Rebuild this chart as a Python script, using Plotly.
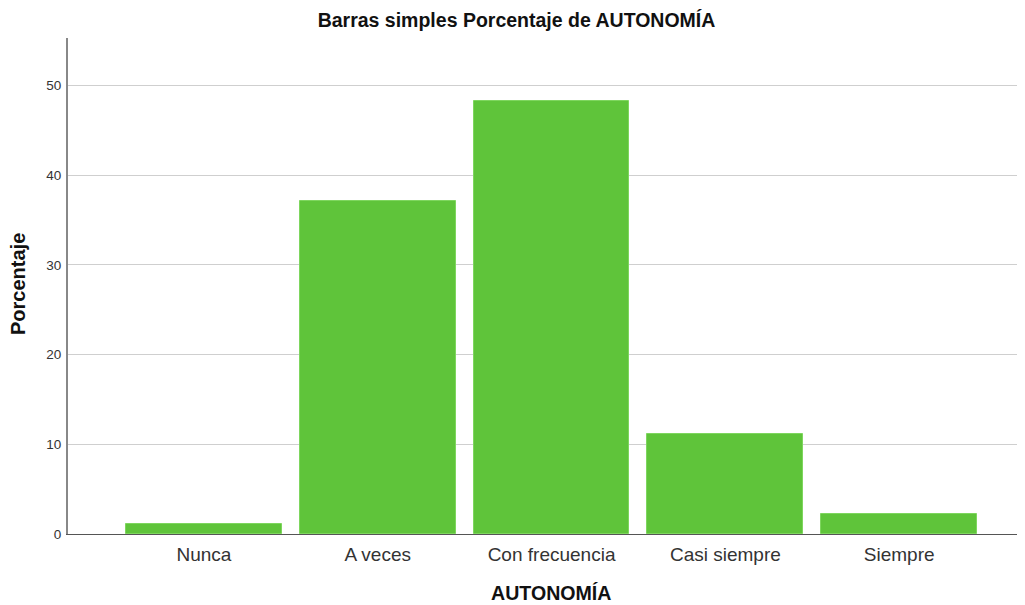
import plotly.graph_objects as go

categorias = ['Nunca', 'A veces', 'Con frecuencia', 'Casi siempre', 'Siempre']
porcentajes = [1.1, 37.1, 48.3, 11.2, 2.2]
ticks_y = [0, 10, 20, 30, 40, 50]

# the page body adds an 8px margin, so the figure is 8px smaller each way
W, H = 1017, 597
L, R, T, B = 60, 0, 30, 71
PW, PH = W - L - R, H - T - B

fig = go.Figure(go.Bar(
    x=categorias,
    y=porcentajes,
    width=0.897,
    marker=dict(color='#5fc43a', line=dict(color='#7ed65e', width=1)),
))

fig.update_layout(
    width=W,
    height=H,
    margin=dict(l=L, r=R, t=T, b=B),
    plot_bgcolor='white',
    paper_bgcolor='white',
    font=dict(family='Arial, Liberation Sans, sans-serif', color='#222222'),
    title=dict(
        text='<b>Barras simples Porcentaje de AUTONOMÍA</b>',
        x=0.5, xanchor='center', y=1 - 12 / H, yanchor='middle',
        font=dict(size=19.5, color='#111111'),
    ),
    showlegend=False,
    bargap=0,
)

fig.update_xaxes(
    range=[-0.782, 4.724],
    showgrid=False,
    showline=True, linecolor='#555555', linewidth=1,
    ticks='', tickfont=dict(size=19, color='#333333'),
    ticklabelstandoff=3,
    automargin=False,
)

fig.update_yaxes(
    range=[0, 55.3],
    tickvals=ticks_y,
    showgrid=True, gridcolor='#cfcfcf', gridwidth=1,
    showline=True, linecolor='#888888', linewidth=2,
    zeroline=False,
    ticks='', tickfont=dict(size=13.5, color='#333333'),
    ticklabelstandoff=2,
    automargin=False,
)

# axis titles as annotations
fig.add_annotation(
    text='<b>AUTONOMÍA</b>', xref='paper', yref='paper',
    x=(543 - L) / PW, y=-(585 - (H - B)) / PH,
    xanchor='center', yanchor='middle', showarrow=False,
    font=dict(size=19.6, color='#111111'),
)
fig.add_annotation(
    text='<b>Porcentaje</b>', xref='paper', yref='paper',
    x=-(L - 10) / PW, y=1 - (276 - T) / PH,
    xanchor='center', yanchor='middle', textangle=-90, showarrow=False,
    font=dict(size=20, color='#111111'),
)

fig.write_html('out.html')
